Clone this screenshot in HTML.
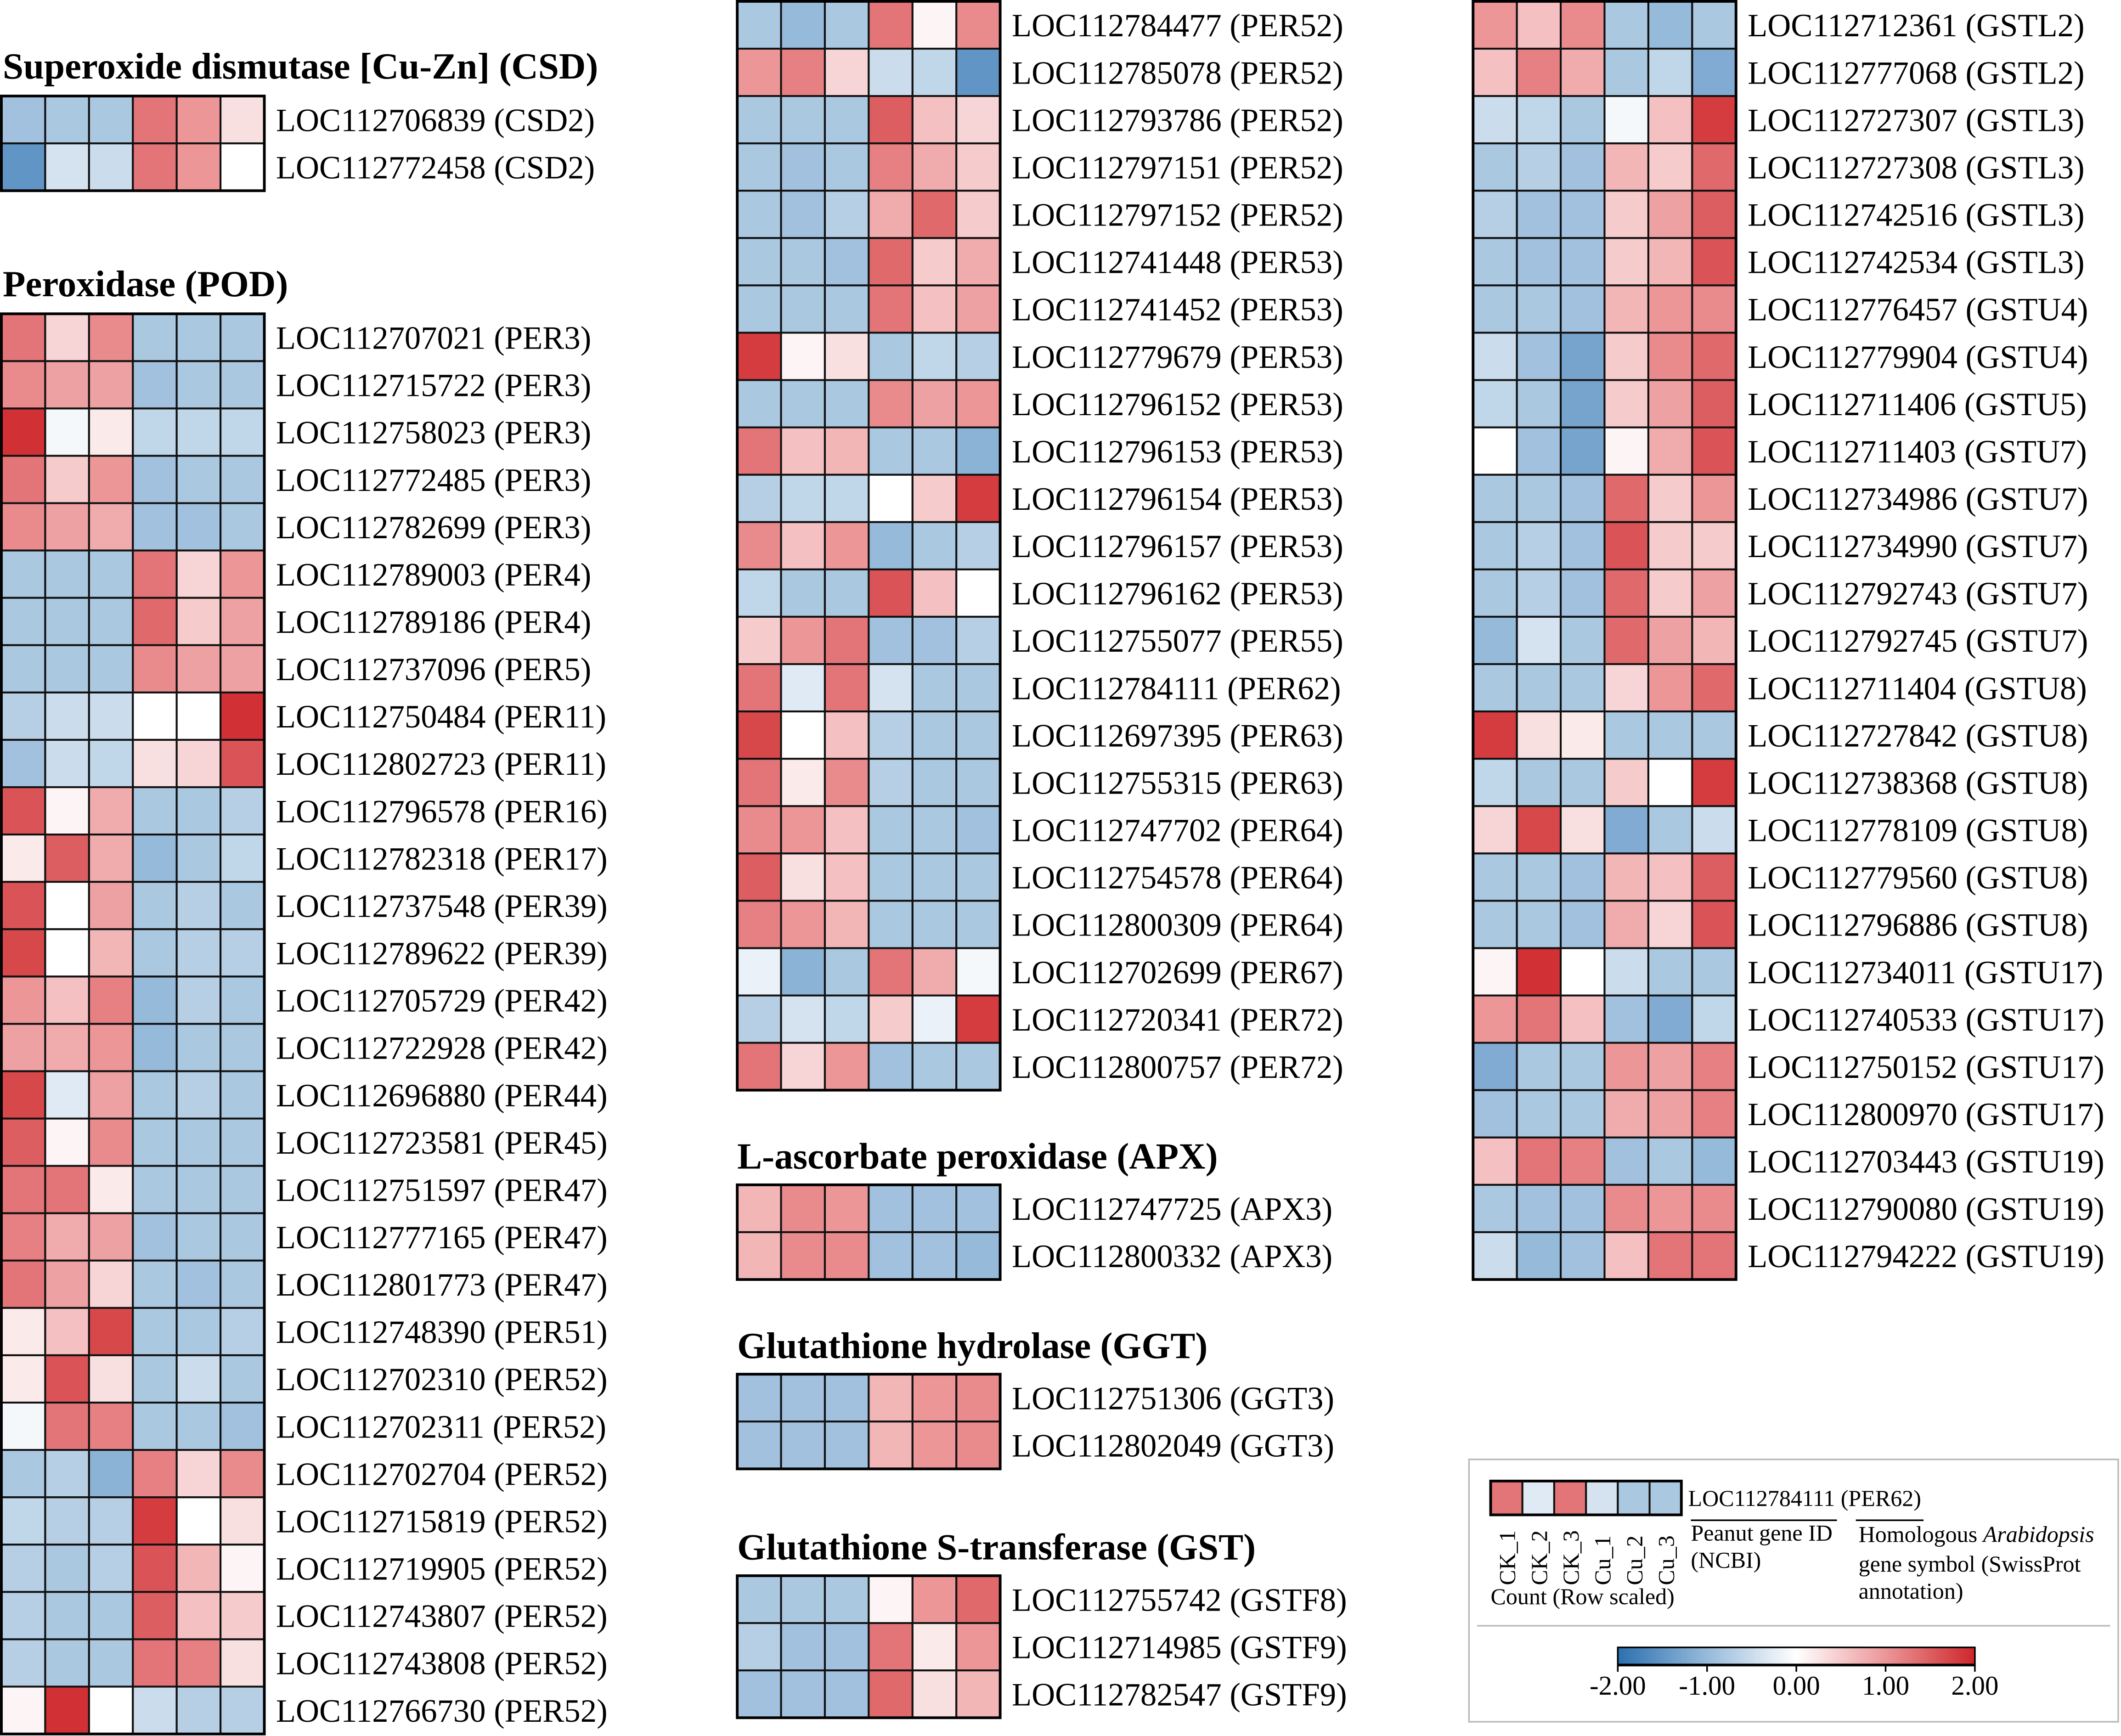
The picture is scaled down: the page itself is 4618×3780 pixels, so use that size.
<!DOCTYPE html>
<html><head><meta charset="utf-8"><style>
html,body{margin:0;padding:0;background:#fff;}
svg{display:block;}
text{font-family:"Liberation Serif",serif;fill:#000;}
</style></head><body>
<svg id="chart" xmlns="http://www.w3.org/2000/svg" width="4618" height="3780" viewBox="0 0 1568 1283.5">
<defs>
<linearGradient id="cbar" x1="0" x2="1" y1="0" y2="0">
<stop offset="0" stop-color="rgb(44,112,176)"/>
<stop offset="0.25" stop-color="rgb(150,186,218)"/>
<stop offset="0.5" stop-color="#ffffff"/>
<stop offset="0.75" stop-color="rgb(236,150,152)"/>
<stop offset="1" stop-color="rgb(206,38,42)"/>
</linearGradient>
</defs>
<g id="layer"></g>
</svg>
<script>
const csdGenes=["LOC112706839 (CSD2)","LOC112772458 (CSD2)"];
const csdValues=[[-0.9,-0.8,-0.8,1.3,1.0,0.3],[-1.5,-0.4,-0.5,1.3,1.0,0.0]];
const podGenes=["LOC112707021 (PER3)","LOC112715722 (PER3)","LOC112758023 (PER3)","LOC112772485 (PER3)","LOC112782699 (PER3)","LOC112789003 (PER4)","LOC112789186 (PER4)","LOC112737096 (PER5)","LOC112750484 (PER11)","LOC112802723 (PER11)","LOC112796578 (PER16)","LOC112782318 (PER17)","LOC112737548 (PER39)","LOC112789622 (PER39)","LOC112705729 (PER42)","LOC112722928 (PER42)","LOC112696880 (PER44)","LOC112723581 (PER45)","LOC112751597 (PER47)","LOC112777165 (PER47)","LOC112801773 (PER47)","LOC112748390 (PER51)","LOC112702310 (PER52)","LOC112702311 (PER52)","LOC112702704 (PER52)","LOC112715819 (PER52)","LOC112719905 (PER52)","LOC112743807 (PER52)","LOC112743808 (PER52)","LOC112766730 (PER52)"];
const podValues=[[1.3,0.4,1.1,-0.8,-0.8,-0.8],[1.1,0.9,0.9,-0.9,-0.8,-0.8],[1.9,-0.1,0.2,-0.6,-0.6,-0.6],[1.3,0.5,1.0,-0.9,-0.8,-0.8],[1.1,0.9,0.8,-0.9,-0.9,-0.8],[-0.8,-0.8,-0.8,1.3,0.4,1.0],[-0.8,-0.8,-0.8,1.4,0.5,0.9],[-0.8,-0.8,-0.8,1.1,0.9,0.9],[-0.7,-0.5,-0.5,0.0,0.0,1.9],[-0.9,-0.5,-0.6,0.3,0.4,1.6],[1.6,0.1,0.8,-0.8,-0.8,-0.7],[0.2,1.5,0.8,-1.0,-0.8,-0.6],[1.6,0.0,0.9,-0.8,-0.7,-0.8],[1.7,0.0,0.7,-0.8,-0.7,-0.7],[1.0,0.6,1.2,-1.0,-0.7,-0.8],[0.9,0.8,1.0,-1.0,-0.8,-0.8],[1.7,-0.3,0.9,-0.8,-0.7,-0.8],[1.5,0.1,1.1,-0.8,-0.8,-0.8],[1.3,1.3,0.2,-0.8,-0.8,-0.8],[1.2,0.8,0.9,-0.9,-0.8,-0.8],[1.3,0.9,0.4,-0.8,-0.9,-0.8],[0.2,0.6,1.7,-0.8,-0.8,-0.7],[0.2,1.6,0.3,-0.8,-0.5,-0.8],[-0.1,1.3,1.2,-0.8,-0.8,-0.9],[-0.8,-0.7,-1.1,1.2,0.4,1.1],[-0.6,-0.7,-0.7,1.8,0.0,0.3],[-0.7,-0.8,-0.7,1.6,0.7,0.1],[-0.7,-0.8,-0.8,1.5,0.6,0.5],[-0.7,-0.8,-0.8,1.3,1.2,0.3],[0.1,1.9,0.0,-0.5,-0.7,-0.7]];
const pod2Genes=["LOC112784477 (PER52)","LOC112785078 (PER52)","LOC112793786 (PER52)","LOC112797151 (PER52)","LOC112797152 (PER52)","LOC112741448 (PER53)","LOC112741452 (PER53)","LOC112779679 (PER53)","LOC112796152 (PER53)","LOC112796153 (PER53)","LOC112796154 (PER53)","LOC112796157 (PER53)","LOC112796162 (PER53)","LOC112755077 (PER55)","LOC112784111 (PER62)","LOC112697395 (PER63)","LOC112755315 (PER63)","LOC112747702 (PER64)","LOC112754578 (PER64)","LOC112800309 (PER64)","LOC112702699 (PER67)","LOC112720341 (PER72)","LOC112800757 (PER72)"];
const pod2Values=[[-0.8,-1.0,-0.8,1.3,0.1,1.1],[1.0,1.2,0.4,-0.5,-0.6,-1.5],[-0.8,-0.8,-0.8,1.5,0.6,0.4],[-0.8,-0.9,-0.8,1.2,0.8,0.5],[-0.8,-0.9,-0.7,0.8,1.4,0.5],[-0.8,-0.8,-0.9,1.4,0.5,0.8],[-0.8,-0.8,-0.8,1.3,0.6,0.9],[1.8,0.1,0.3,-0.8,-0.6,-0.7],[-0.8,-0.8,-0.8,1.1,0.9,1.0],[1.3,0.6,0.7,-0.8,-0.8,-1.1],[-0.7,-0.6,-0.6,0.0,0.5,1.8],[1.1,0.6,1.0,-1.0,-0.8,-0.7],[-0.6,-0.8,-0.8,1.6,0.6,0.0],[0.5,1.0,1.3,-0.9,-0.9,-0.7],[1.3,-0.3,1.3,-0.4,-0.8,-0.8],[1.7,0.0,0.6,-0.7,-0.8,-0.8],[1.3,0.2,1.1,-0.7,-0.8,-0.8],[1.1,1.0,0.6,-0.8,-0.8,-0.9],[1.5,0.3,0.6,-0.8,-0.8,-0.8],[1.2,1.0,0.7,-0.8,-0.8,-0.8],[-0.2,-1.1,-0.8,1.3,0.8,-0.1],[-0.7,-0.4,-0.6,0.5,-0.2,1.8],[1.3,0.4,1.0,-0.9,-0.8,-0.8]];
const apxGenes=["LOC112747725 (APX3)","LOC112800332 (APX3)"];
const apxValues=[[0.7,1.1,1.0,-0.9,-0.9,-0.9],[0.7,1.1,1.1,-0.9,-0.9,-1.0]];
const ggtGenes=["LOC112751306 (GGT3)","LOC112802049 (GGT3)"];
const ggtValues=[[-0.9,-0.9,-0.9,0.7,1.0,1.1],[-0.9,-0.9,-0.9,0.7,1.0,1.1]];
const gstGenes=["LOC112755742 (GSTF8)","LOC112714985 (GSTF9)","LOC112782547 (GSTF9)"];
const gstValues=[[-0.8,-0.8,-0.8,0.1,1.0,1.4],[-0.7,-0.9,-0.9,1.3,0.2,1.0],[-0.9,-0.9,-0.9,1.4,0.3,0.7]];
const gst2Genes=["LOC112712361 (GSTL2)","LOC112777068 (GSTL2)","LOC112727307 (GSTL3)","LOC112727308 (GSTL3)","LOC112742516 (GSTL3)","LOC112742534 (GSTL3)","LOC112776457 (GSTU4)","LOC112779904 (GSTU4)","LOC112711406 (GSTU5)","LOC112711403 (GSTU7)","LOC112734986 (GSTU7)","LOC112734990 (GSTU7)","LOC112792743 (GSTU7)","LOC112792745 (GSTU7)","LOC112711404 (GSTU8)","LOC112727842 (GSTU8)","LOC112738368 (GSTU8)","LOC112778109 (GSTU8)","LOC112779560 (GSTU8)","LOC112796886 (GSTU8)","LOC112734011 (GSTU17)","LOC112740533 (GSTU17)","LOC112750152 (GSTU17)","LOC112800970 (GSTU17)","LOC112703443 (GSTU19)","LOC112790080 (GSTU19)","LOC112794222 (GSTU19)"];
const gst2Values=[[1.0,0.6,1.1,-0.8,-1.0,-0.8],[0.6,1.2,0.8,-0.8,-0.6,-1.2],[-0.5,-0.6,-0.8,-0.1,0.6,1.8],[-0.8,-0.7,-0.9,0.7,0.5,1.4],[-0.7,-0.9,-0.9,0.5,0.9,1.5],[-0.8,-0.9,-0.9,0.5,0.7,1.6],[-0.8,-0.8,-0.9,0.7,1.0,1.1],[-0.5,-0.9,-1.3,0.5,1.1,1.4],[-0.6,-0.8,-1.3,0.5,0.9,1.5],[0.0,-0.9,-1.3,0.1,0.8,1.6],[-0.8,-0.8,-0.9,1.4,0.5,1.0],[-0.8,-0.7,-0.9,1.6,0.5,0.5],[-0.8,-0.7,-0.9,1.4,0.5,0.9],[-1.0,-0.4,-0.8,1.4,0.9,0.7],[-0.8,-0.8,-0.8,0.4,1.0,1.4],[1.8,0.3,0.2,-0.8,-0.8,-0.8],[-0.6,-0.8,-0.8,0.5,0.0,1.8],[0.4,1.7,0.3,-1.2,-0.8,-0.5],[-0.8,-0.8,-0.9,0.7,0.6,1.5],[-0.8,-0.8,-0.9,0.8,0.4,1.6],[0.1,1.9,0.0,-0.5,-0.8,-0.8],[1.0,1.3,0.6,-0.9,-1.2,-0.6],[-1.2,-0.8,-0.8,1.0,0.9,1.2],[-0.9,-0.8,-0.8,0.8,0.9,1.2],[0.6,1.3,1.2,-0.9,-0.8,-1.0],[-0.8,-0.9,-0.9,1.1,1.0,1.1],[-0.5,-1.0,-0.9,0.6,1.3,1.3]];
const legendGene=["LOC112784111 (PER62)"];
const legendValues=[[1.3,-0.3,1.3,-0.4,-0.8,-0.8]];
const sampleLabels=["CK_1","CK_2","CK_3","Cu_1","Cu_2","Cu_3"];
const tickValues=[-2,-1,0,1,2];
const tickLabels=["-2.00","-1.00","0.00","1.00","2.00"];

const NS="http://www.w3.org/2000/svg";
const layer=document.getElementById('layer');
function mk(tag,attrs,parent){const e=document.createElementNS(NS,tag);for(const k in attrs)e.setAttribute(k,attrs[k]);(parent||layer).appendChild(e);return e;}
const stops=[[-2,[44,112,176]],[-1,[150,186,218]],[0,[255,255,255]],[1,[236,150,152]],[2,[206,38,42]]];
function color(v){v=Math.max(-2,Math.min(2,v));for(let i=0;i<stops.length-1;i++){const a=stops[i],b=stops[i+1];if(v<=b[0]){const t=(v-a[0])/(b[0]-a[0]);const c=a[1].map((x,j)=>Math.round(x+(b[1][j]-x)*t));return `rgb(${c})`;}}return 'rgb(206,38,42)';}

function heatmap(name,genes,values,x0,y0,cw,rh,fs,lx){
  const g=mk('g',{});
  
  
  values.forEach((row,r)=>{
    row.forEach((v,c)=>{
      const cell=mk('rect',{x:x0+c*cw,y:y0+r*rh,width:cw,height:rh,fill:color(v),stroke:'#111','stroke-width':1.4},g);
      
      
    });
    const t=mk('text',{x:lx,y:y0+r*rh+rh/2+fs*0.35,'font-size':fs},g);
    
    
    t.textContent=genes[r];
  });
  mk('rect',{x:x0,y:y0,width:cw*6,height:rh*values.length,fill:'none',stroke:'#000','stroke-width':2},g);
}
function title(txt,x,y){const t=mk('text',{x:x,y:y,'font-size':27.5,'font-weight':'bold'});t.textContent=txt;}

const CW=32.4,RH=35,FS=24;
title('Superoxide dismutase [Cu-Zn] (CSD)',2,58);
heatmap('csd-heatmap',csdGenes,csdValues,1,71,CW,RH,FS,204);
title('Peroxidase (POD)',2,219);
heatmap('pod-heatmap',podGenes,podValues,1,232,CW,RH,FS,204);
heatmap('pod-heatmap-2',pod2Genes,pod2Values,545,1,CW,RH,FS,748);
title('L-ascorbate peroxidase (APX)',545,864);
heatmap('apx-heatmap',apxGenes,apxValues,545,876,CW,RH,FS,748);
title('Glutathione hydrolase (GGT)',545,1004);
heatmap('ggt-heatmap',ggtGenes,ggtValues,545,1016,CW,RH,FS,748);
title('Glutathione S-transferase (GST)',545,1153);
heatmap('gst-heatmap',gstGenes,gstValues,545,1165,CW,RH,FS,748);
heatmap('gst-heatmap-2',gst2Genes,gst2Values,1089,1,CW,RH,FS,1292);

// legend
const lg=mk('g',{});


mk('rect',{x:1086,y:1079,width:480,height:194,fill:'none',stroke:'#bbb','stroke-width':1.2},lg);
heatmap('legend-heatmap',legendGene,legendValues,1102,1095,23.5,25,17,1248);
mk('line',{x1:1250,x2:1358,y1:1124,y2:1124,stroke:'#000','stroke-width':1.2},lg);
mk('line',{x1:1372,x2:1422,y1:1124,y2:1124,stroke:'#000','stroke-width':1.2},lg);
sampleLabels.forEach((s,i)=>{const t=mk('text',{'font-size':17,transform:`translate(${1102+23.5*i+18},${1172}) rotate(-90)`},lg);t.textContent=s;});
[['Peanut gene ID',1250,1139],['(NCBI)',1250,1159],['Count (Row scaled)',1102,1186],['gene symbol (SwissProt',1374,1162],['annotation)',1374,1182]].forEach(a=>{const t=mk('text',{x:a[1],y:a[2],'font-size':17},lg);t.textContent=a[0];});
const ht=mk('text',{x:1374,y:1140,'font-size':17},lg);ht.innerHTML='Homologous <tspan font-style="italic">Arabidopsis</tspan>';
mk('line',{x1:1092,x2:1560,y1:1202,y2:1202,stroke:'#bbb','stroke-width':1.2},lg);
const cx0=1196,cx1=1460;
const cb=mk('rect',{x:cx0,y:1218,width:cx1-cx0,height:13,fill:'url(#cbar)',stroke:'#000','stroke-width':1.2},lg);

mk('line',{x1:cx0,x2:cx1,y1:1231,y2:1231,stroke:'#000','stroke-width':2},lg);
function xs(v){return cx0+(v+2)/4*(cx1-cx0);}
tickValues.forEach((v,i)=>{mk('line',{x1:xs(v),x2:xs(v),y1:1231,y2:1236,stroke:'#000','stroke-width':1.2},lg);const t=mk('text',{x:xs(v),y:1253,'font-size':20,'text-anchor':'middle'},lg);t.textContent=tickLabels[i];});
</script>
</body></html>
